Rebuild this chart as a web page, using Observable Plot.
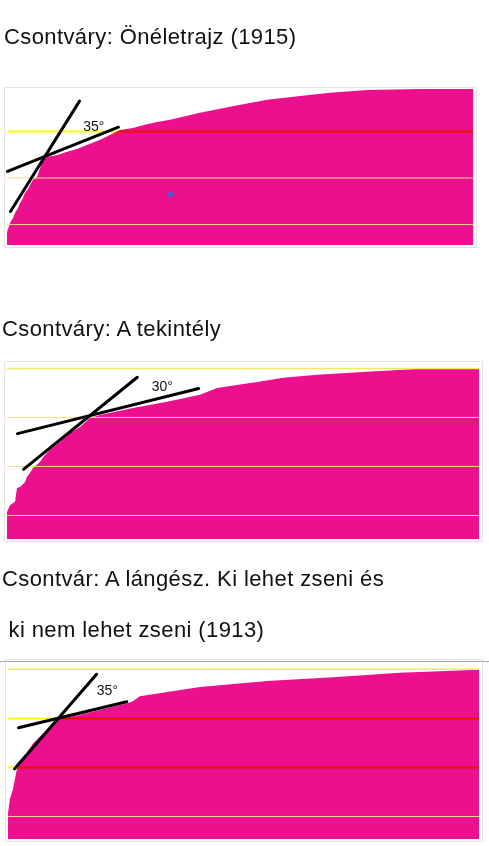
<!DOCTYPE html>
<html>
<head>
<meta charset="utf-8">
<script src="https://cdn.jsdelivr.net/npm/d3@7"></script>
<script src="https://cdn.jsdelivr.net/npm/@observablehq/plot@0.6"></script>
<style>
  html, body { margin: 0; padding: 0; background: #fff; }
  body { position: relative; width: 489px; height: 846px; overflow: hidden; font-family: "Liberation Sans", Arial, sans-serif; }
  .title { position: absolute; font-size: 22px; line-height: 22px; color: #111; white-space: pre; letter-spacing: 0.4px; }
  .panel { position: absolute; left: 0; }
</style>
</head>
<body>
<div class="title" id="t1" style="left:4px; top:26px;"></div>
<div class="panel" id="p1" style="top:84px;"></div>
<div class="title" id="t2" style="left:2px; top:318px;"></div>
<div class="panel" id="p2" style="top:358px;"></div>
<div class="title" id="t3a" style="left:2px; top:568px;"></div>
<div class="title" id="t3b" style="left:2px; top:619px;"></div>
<div class="panel" id="p3" style="top:656px;"></div>
<script>
// ---------- titles ----------
const title1 = "Csontváry: Önéletrajz (1915)";
const title2 = "Csontváry: A tekintély";
const title3a = "Csontvár: A lángész. Ki lehet zseni és";
const title3b = " ki nem lehet zseni (1913)";

// ---------- panel 1: Önéletrajz ----------
const rank1  = [0, 0.43, 0.64, 1.29, 1.72, 2.36, 2.79, 3.43, 3.86, 4.51, 4.94, 5.58, 6.44, 7.08, 7.73, 8.58, 9.66, 10.7, 12.9, 15.0, 17.2, 20.0, 22.1, 24.2, 27.0, 29.6, 32.2, 35.0, 41.4, 47.9, 55.8, 62.9, 69.3, 77.3, 88.6, 100];
const value1 = [0.83, 0.96, 1.02, 1.13, 1.24, 1.34, 1.45, 1.56, 1.67, 1.75, 1.84, 1.95, 2.01, 2.20, 2.38, 2.44, 2.46, 2.48, 2.55, 2.61, 2.70, 2.81, 2.91, 3.02, 3.06, 3.13, 3.19, 3.24, 3.39, 3.52, 3.67, 3.75, 3.82, 3.88, 3.90, 3.90];
const domain1 = [0.55, 3.90];
const gridRed1 = [3];
const gridPale1 = [1, 2];
const steepLine1 = {rank: [0.64, 15.45], value: [1.28, 3.65]};
const flatLine1  = {rank: [0, 23.8], value: [2.14, 3.09]};
const angle1 = {rank: 18.5, value: 3.11, text: "35°"};
const dot1 = {rank: 35.0, value: 1.65};

// ---------- panel 2: A tekintély ----------
const rank2  = [0, 0.64, 1.69, 2.12, 2.75, 3.81, 4.24, 4.87, 5.51, 6.99, 7.63, 9.11, 11.2, 13.3, 15.5, 17.6, 19.7, 26.7, 33.9, 40.9, 44.5, 51.5, 58.5, 65.7, 76.3, 86.9, 100];
const value2 = [1.06, 1.20, 1.27, 1.55, 1.57, 1.67, 1.78, 1.86, 1.96, 2.08, 2.18, 2.33, 2.49, 2.67, 2.80, 2.98, 3.04, 3.18, 3.31, 3.45, 3.59, 3.69, 3.80, 3.86, 3.92, 3.98, 4.00];
const domain2 = [0.51, 4.10];
const gridRed2 = [];
const gridPale2 = [1, 2, 3];
const gridTop2 = [4];
const steepLine2 = {rank: [3.39, 27.5], value: [1.94, 3.82]};
const flatLine2  = {rank: [2.12, 40.5], value: [2.67, 3.59]};
const angle2 = {rank: 32.8, value: 3.63, text: "30°"};

// ---------- panel 3: A lángész ----------
const rank3  = [0, 0.42, 1.06, 1.91, 2.55, 4.03, 5.31, 7.43, 9.55, 11.0, 14.6, 19.5, 25.3, 26.5, 28.0, 33.8, 40.8, 55.0, 69.0, 83.2, 100];
const value3 = [1.06, 1.35, 1.55, 1.97, 2.09, 2.29, 2.48, 2.68, 2.89, 2.99, 3.05, 3.16, 3.30, 3.34, 3.44, 3.53, 3.63, 3.75, 3.83, 3.92, 3.98];
const domain3 = [0.53, 4.16];
const gridRed3 = [2, 3];
const gridPale3 = [1];
const gridTop3 = [4];
const steepLine3 = {rank: [1.27, 18.7], value: [1.97, 3.90]};
const flatLine3  = {rank: [2.12, 25.1], value: [2.81, 3.34]};
const angle3 = {rank: 21.0, value: 3.57, text: "35°"};

// ---------- styles ----------
const MAGENTA = "#ec108e";
const YELLOW = "#ffff00";
const PALE = "#f8d98a";

function zipPts(r, v) { return r.map((x, i) => ({rank: x, value: v[i]})); }

function panel({ranks, values, domain, gridRed, gridPale, gridTop, steep, flat, angle, dot, height, mt, mb, ml, mr, topRule}) {
  const curve = zipPts(ranks, values);
  const marks = [
    Plot.frame({stroke: "#e4e4e4", insetLeft: -3, insetRight: -3, insetTop: -2, insetBottom: -2}),
    Plot.areaY(curve, {x: "rank", y1: domain[0], y2: "value", fill: MAGENTA, curve: "linear"}),
    Plot.ruleY(gridPale, {stroke: PALE, strokeWidth: 1}),
    Plot.ruleY(gridRed, {stroke: YELLOW, strokeWidth: 2, mixBlendMode: "multiply"})
  ];
  if (gridTop) marks.push(Plot.ruleY(gridTop, {stroke: "#f0ec60", strokeWidth: 1.5}));
  if (topRule) marks.push(Plot.ruleY([domain[1]], {stroke: "#aaaaaa", strokeWidth: 1, insetLeft: -ml, insetRight: -mr}));
  marks.push(
    Plot.line(zipPts(steep.rank, steep.value), {x: "rank", y: "value", stroke: "#000", strokeWidth: 3}),
    Plot.line(zipPts(flat.rank, flat.value), {x: "rank", y: "value", stroke: "#000", strokeWidth: 3}),
    Plot.text([angle], {x: "rank", y: "value", text: "text", fontSize: 14, fill: "#111"})
  );
  if (dot) marks.push(Plot.dot([dot], {x: "rank", y: "value", r: 2.6, fill: "#3f62dc"}));
  return Plot.plot({
    width: 489, height,
    marginTop: mt, marginBottom: mb, marginLeft: ml, marginRight: mr,
    x: {domain: [0, 100], axis: null},
    y: {domain, axis: null},
    style: {fontFamily: "'Liberation Sans', Arial, sans-serif", background: "transparent", overflow: "visible"},
    marks
  });
}

document.getElementById("t1").textContent = title1;
document.getElementById("t2").textContent = title2;
document.getElementById("t3a").textContent = title3a;
document.getElementById("t3b").textContent = title3b;

document.getElementById("p1").append(panel({
  ranks: rank1, values: value1, domain: domain1, gridRed: gridRed1, gridPale: gridPale1,
  steep: steepLine1, flat: flatLine1, angle: angle1, dot: dot1,
  height: 165, mt: 5, mb: 4, ml: 7, mr: 16
}));
document.getElementById("p2").append(panel({
  ranks: rank2, values: value2, domain: domain2, gridRed: gridRed2, gridPale: gridPale2, gridTop: gridTop2,
  steep: steepLine2, flat: flatLine2, angle: angle2,
  height: 186, mt: 5, mb: 5, ml: 7, mr: 10
}));
document.getElementById("p3").append(panel({
  ranks: rank3, values: value3, domain: domain3, gridRed: gridRed3, gridPale: gridPale3, gridTop: gridTop3,
  steep: steepLine3, flat: flatLine3, angle: angle3,
  height: 187, mt: 5, mb: 4, ml: 8, mr: 10, topRule: true
}));
</script>
</body>
</html>
